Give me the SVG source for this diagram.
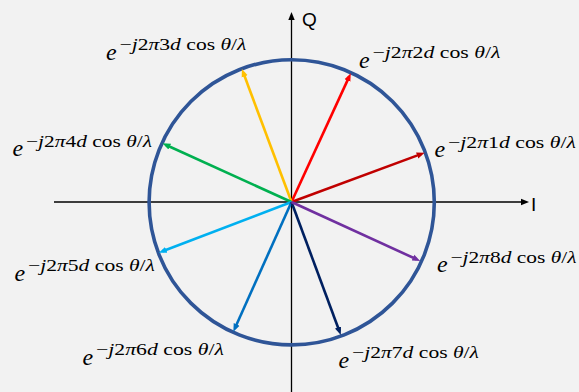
<svg xmlns="http://www.w3.org/2000/svg" width="579" height="392" viewBox="0 0 579 392">
<style>
.axis{stroke:#000;stroke-width:1.3;fill:none}
.vec{stroke-width:2.6;fill:none}
.ax{font-family:"Liberation Sans","Open Sans",sans-serif;font-size:19px;fill:#000}
.e{font-family:"Liberation Serif","DejaVu Serif",serif;font-style:italic;font-size:24px;fill:#000}
.sup{font-family:"Liberation Serif","DejaVu Serif",serif;font-size:17px;fill:#000}
.i{font-style:italic}
</style>
<defs>
<marker id="mk" viewBox="0 0 10 10" refX="5" refY="5" markerWidth="8" markerHeight="8" markerUnits="userSpaceOnUse" orient="auto"><path d="M0,1 L10,5 L0,9 z" fill="#000"/></marker>
<marker id="m1" viewBox="0 0 10 10" refX="5" refY="5" markerWidth="8" markerHeight="8" markerUnits="userSpaceOnUse" orient="auto"><path d="M0,1 L10,5 L0,9 z" fill="#C00000"/></marker>
<marker id="m2" viewBox="0 0 10 10" refX="5" refY="5" markerWidth="8" markerHeight="8" markerUnits="userSpaceOnUse" orient="auto"><path d="M0,1 L10,5 L0,9 z" fill="#FF0000"/></marker>
<marker id="m3" viewBox="0 0 10 10" refX="5" refY="5" markerWidth="8" markerHeight="8" markerUnits="userSpaceOnUse" orient="auto"><path d="M0,1 L10,5 L0,9 z" fill="#FFC000"/></marker>
<marker id="m4" viewBox="0 0 10 10" refX="5" refY="5" markerWidth="8" markerHeight="8" markerUnits="userSpaceOnUse" orient="auto"><path d="M0,1 L10,5 L0,9 z" fill="#00B050"/></marker>
<marker id="m5" viewBox="0 0 10 10" refX="5" refY="5" markerWidth="8" markerHeight="8" markerUnits="userSpaceOnUse" orient="auto"><path d="M0,1 L10,5 L0,9 z" fill="#00B0F0"/></marker>
<marker id="m6" viewBox="0 0 10 10" refX="5" refY="5" markerWidth="8" markerHeight="8" markerUnits="userSpaceOnUse" orient="auto"><path d="M0,1 L10,5 L0,9 z" fill="#0070C0"/></marker>
<marker id="m7" viewBox="0 0 10 10" refX="5" refY="5" markerWidth="8" markerHeight="8" markerUnits="userSpaceOnUse" orient="auto"><path d="M0,1 L10,5 L0,9 z" fill="#002060"/></marker>
<marker id="m8" viewBox="0 0 10 10" refX="5" refY="5" markerWidth="8" markerHeight="8" markerUnits="userSpaceOnUse" orient="auto"><path d="M0,1 L10,5 L0,9 z" fill="#7030A0"/></marker>
</defs>
<rect width="579" height="392" fill="#F2F2F2"/>
<g id="axes">
<line class="axis" x1="54" y1="202" x2="525" y2="202" marker-end="url(#mk)"/>
<line class="axis" x1="291.5" y1="392" x2="291.5" y2="16" marker-end="url(#mk)"/>
<text class="ax" x="302" y="26">Q</text>
<text class="ax" x="531" y="211">I</text>
</g>
<g id="circle">
<circle cx="291.7" cy="202.3" r="142.6" fill="none" stroke="#2F5597" stroke-width="3.6"/>
</g>
<g id="connectors">
<line class="vec" stroke="#C00000" x1="291.5" y1="202" x2="420.9" y2="154.1" marker-end="url(#m1)"/>
<line class="vec" stroke="#FF0000" x1="291.5" y1="202" x2="349.1" y2="76.9" marker-end="url(#m2)"/>
<line class="vec" stroke="#FFC000" x1="291.5" y1="202" x2="243.3" y2="72.7" marker-end="url(#m3)"/>
<line class="vec" stroke="#00B050" x1="291.5" y1="202" x2="166.1" y2="145.0" marker-end="url(#m4)"/>
<line class="vec" stroke="#00B0F0" x1="291.5" y1="202" x2="162.5" y2="251.3" marker-end="url(#m5)"/>
<line class="vec" stroke="#0070C0" x1="291.5" y1="202" x2="235.0" y2="328.0" marker-end="url(#m6)"/>
<line class="vec" stroke="#002060" x1="291.5" y1="202" x2="339.4" y2="331.2" marker-end="url(#m7)"/>
<line class="vec" stroke="#7030A0" x1="291.5" y1="202" x2="416.6" y2="259.3" marker-end="url(#m8)"/>
</g>
<g id="label1">
<text class="e" x="434.5" y="156.5">e</text>
<text class="sup" x="448" y="148" textLength="128" lengthAdjust="spacingAndGlyphs">−<tspan class="i">j</tspan>2<tspan class="i">π</tspan>1<tspan class="i">d</tspan> cos <tspan class="i">θ</tspan>/<tspan class="i">λ</tspan></text>
</g>
<g id="label2">
<text class="e" x="359" y="68">e</text>
<text class="sup" x="372.5" y="57.5" textLength="128" lengthAdjust="spacingAndGlyphs">−<tspan class="i">j</tspan>2<tspan class="i">π</tspan>2<tspan class="i">d</tspan> cos <tspan class="i">θ</tspan>/<tspan class="i">λ</tspan></text>
</g>
<g id="label3">
<text class="e" x="106" y="59.5">e</text>
<text class="sup" x="119.5" y="50" textLength="127" lengthAdjust="spacingAndGlyphs">−<tspan class="i">j</tspan>2<tspan class="i">π</tspan>3<tspan class="i">d</tspan> cos <tspan class="i">θ</tspan>/<tspan class="i">λ</tspan></text>
</g>
<g id="label4">
<text class="e" x="12.5" y="156">e</text>
<text class="sup" x="26" y="147" textLength="126" lengthAdjust="spacingAndGlyphs">−<tspan class="i">j</tspan>2<tspan class="i">π</tspan>4<tspan class="i">d</tspan> cos <tspan class="i">θ</tspan>/<tspan class="i">λ</tspan></text>
</g>
<g id="label5">
<text class="e" x="14.5" y="280.5">e</text>
<text class="sup" x="28" y="271" textLength="127" lengthAdjust="spacingAndGlyphs">−<tspan class="i">j</tspan>2<tspan class="i">π</tspan>5<tspan class="i">d</tspan> cos <tspan class="i">θ</tspan>/<tspan class="i">λ</tspan></text>
</g>
<g id="label6">
<text class="e" x="82.5" y="364.5">e</text>
<text class="sup" x="96" y="355" textLength="128" lengthAdjust="spacingAndGlyphs">−<tspan class="i">j</tspan>2<tspan class="i">π</tspan>6<tspan class="i">d</tspan> cos <tspan class="i">θ</tspan>/<tspan class="i">λ</tspan></text>
</g>
<g id="label7">
<text class="e" x="338.5" y="367.5">e</text>
<text class="sup" x="352" y="358" textLength="127" lengthAdjust="spacingAndGlyphs">−<tspan class="i">j</tspan>2<tspan class="i">π</tspan>7<tspan class="i">d</tspan> cos <tspan class="i">θ</tspan>/<tspan class="i">λ</tspan></text>
</g>
<g id="label8">
<text class="e" x="437" y="272">e</text>
<text class="sup" x="450.5" y="263" textLength="126" lengthAdjust="spacingAndGlyphs">−<tspan class="i">j</tspan>2<tspan class="i">π</tspan>8<tspan class="i">d</tspan> cos <tspan class="i">θ</tspan>/<tspan class="i">λ</tspan></text>
</g>
</svg>
